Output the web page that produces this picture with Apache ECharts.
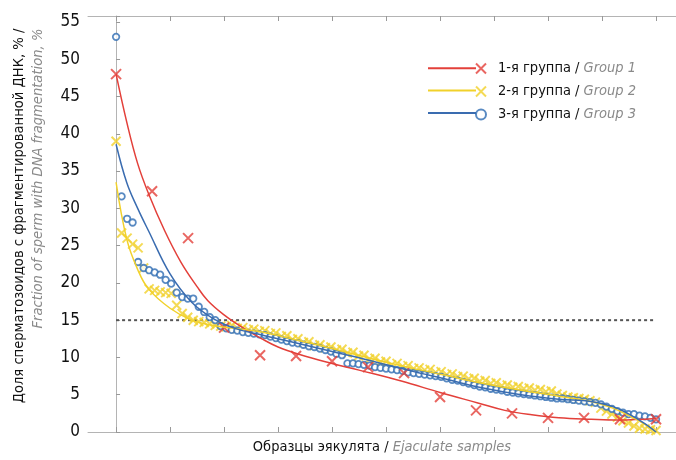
<!DOCTYPE html>
<html>
<head>
<meta charset="utf-8">
<script src="https://cdn.jsdelivr.net/npm/echarts@6/dist/echarts.min.js"></script>
<style>
  html, body { margin: 0; padding: 0; background: #fff; }
  #chart { width: 676px; height: 460px; }
</style>
</head>
<body>
<div id="chart"></div>
<script>
// x is the position of a sample along the ranked list, 0..100
const xTicks = [0, 10, 20, 30, 40, 50, 60, 70, 80, 90, 100];
const yTicks = [0, 5, 10, 15, 20, 25, 30, 35, 40, 45, 50, 55];
const threshold = 15;

const namesRu = ["1-я группа", "2-я группа", "3-я группа"];
const namesEn = ["Group 1", "Group 2", "Group 3"];

const group1 = [48.0, 32.3, 26.0, 14.0, 10.3, 10.2, 9.5, 8.7, 7.9, 4.7, 2.9, 2.5, 1.9, 1.9, 1.7, 1.7];

const group2 = [
    39.0, 26.7, 26.0, 25.2, 24.7, 22.0, 19.2, 19.0, 18.8, 18.7,
    18.6, 17.0, 15.9, 15.4, 15.0, 14.8, 14.7, 14.5, 14.3, 14.2,
    14.1, 14.3, 13.9, 14.0, 13.7, 13.8, 13.5, 13.6, 13.2, 13.3,
    12.8, 12.9, 12.4, 12.5, 12.0, 12.1, 11.6, 11.7, 11.3, 11.4,
    11.0, 11.1, 10.6, 10.7, 10.2, 10.3, 9.8, 9.9, 9.4, 9.5,
    9.0, 9.2, 8.8, 8.9, 8.5, 8.6, 8.3, 8.4, 8.0, 8.1,
    7.7, 7.8, 7.4, 7.5, 7.1, 7.2, 6.8, 6.9, 6.5, 6.6,
    6.2, 6.3, 6.0, 6.1, 5.8, 5.9, 5.6, 5.7, 5.4, 5.5,
    5.1, 4.9, 4.7, 4.6, 4.5, 4.4, 4.2, 4.0, 3.2, 2.8,
    2.4, 2.0, 1.5, 1.2, 0.8, 0.5, 0.4, 0.3, 0.2
];

const group3 = [
    53.0, 31.6, 28.6, 28.1, 22.8, 22.0, 21.7, 21.4, 21.1, 20.4,
    19.9, 18.7, 18.1, 17.9, 17.9, 16.8, 16.1, 15.4, 15.0, 14.2,
    13.9, 13.7, 13.6, 13.4, 13.3, 13.2, 13.1, 13.0, 12.8, 12.6,
    12.4, 12.2, 12.0, 11.9, 11.7, 11.5, 11.4, 11.2, 11.0, 10.8,
    10.5, 10.3, 9.2, 9.2, 9.1, 9.0, 8.9, 8.7, 8.6, 8.5,
    8.4, 8.3, 8.2, 8.0, 7.9, 7.8, 7.7, 7.6, 7.5, 7.4,
    7.2, 7.0, 6.9, 6.7, 6.5, 6.3, 6.1, 6.0, 5.8, 5.7,
    5.6, 5.4, 5.3, 5.2, 5.1, 5.0, 4.9, 4.8, 4.7, 4.6,
    4.5, 4.5, 4.4, 4.3, 4.2, 4.1, 4.0, 3.9, 3.7, 3.4,
    3.1, 2.8, 2.6, 2.4, 2.4, 2.2, 2.1, 1.9, 1.7
];

// fitted trend curves as [x, y]
const fit1 = [[0, 48], [2, 41.5], [4, 36], [6, 32], [9, 27], [12, 22.8], [15, 19.5], [17, 17.6], [20, 15.7],
    [23, 14.2], [27, 12.5], [30, 11.4], [34, 10.4], [40, 9.2], [45, 8.3], [53, 6.8], [60, 5.3],
    [67, 3.9], [72, 2.9], [77, 2.3], [82, 1.9], [88, 1.7], [93, 1.6], [100, 1.8]];
const fit2 = [[0, 33.5], [2, 25.8], [4, 21.8], [6, 19.2], [10, 16.6], [14, 15.0], [18, 14.3], [22, 13.9],
    [27, 13.4], [33, 12.4], [40, 11.2], [47, 9.9], [54, 8.7], [61, 7.6], [68, 6.5], [75, 5.6],
    [82, 4.8], [88, 4.1], [92, 3.2], [95, 2.2], [98, 1.0], [100, 0]];
const fit3 = [[0, 38.6], [2, 33.4], [4, 30.0], [6, 27.0], [10, 21.2], [14, 17.4], [18, 15.2], [22, 13.9],
    [27, 13.0], [33, 12.0], [40, 10.8], [47, 9.6], [54, 8.3], [61, 7.1], [68, 5.9], [75, 5.0],
    [82, 4.4], [88, 4.1], [92, 3.4], [95, 2.4], [98, 1.1], [100, 0]];

const colors = {
    red: "#e3403a",
    yellow: "#f1d12b",
    blue: "#2f6db3",
    frame: "#b4b4b4"
};

const FONT = "'Liberation Sans Narrow', 'DejaVu Sans Condensed', 'Noto Sans', sans-serif";
const CROSS = "path://M0,0L10,10M10,0L0,10";

function spread(values) {
    const n = values.length;
    return values.map((v, i) => [i * 100 / (n - 1), v]);
}

function axisX(position) {
    return {
        type: "value",
        position: position,
        min: -5.2,
        max: 103.7,
        axisLine: { show: true, onZero: false, lineStyle: { color: colors.frame, width: 1 } },
        axisTick: { show: true, inside: true, length: 5, customValues: xTicks, lineStyle: { color: "#999" } },
        axisLabel: { show: false },
        splitLine: { show: false }
    };
}

const chart = echarts.init(document.getElementById("chart"), null, { renderer: "canvas" });

const bottomAxis = axisX("bottom");
bottomAxis.name = "{a|Образцы эякулята / }{b|Ejaculate samples}";
bottomAxis.nameLocation = "middle";
bottomAxis.nameGap = 8;
bottomAxis.nameTextStyle = {
    rich: {
        a: { fontFamily: FONT, fontSize: 14.5, color: "#111" },
        b: { fontFamily: FONT, fontSize: 14.5, color: "#8a8a8a", fontStyle: "italic" }
    }
};

const option = {
    animation: false,
    textStyle: { fontFamily: FONT },
    grid: { left: 88, right: 0, top: 16, bottom: 27 },
    legend: [
        {
            data: ["fit1", "fit2", "fit3"],
            orient: "vertical",
            left: 422,
            top: 56,
            itemWidth: 48,
            itemHeight: 18,
            itemGap: 8,
            selectedMode: false,
            itemStyle: { opacity: 0 },
            formatter: () => "",
            textStyle: { fontSize: 14, lineHeight: 18 }
        },
        {
            data: ["g1", "g2", "g3"],
            orient: "vertical",
            left: 470,
            top: 56,
            itemWidth: 10,
            itemHeight: 10,
            itemGap: 8,
            selectedMode: false,
            formatter: function (name) {
                const i = ["g1", "g2", "g3"].indexOf(name);
                return `{a|${namesRu[i]} / }{b|${namesEn[i]}}`;
            },
            textStyle: {
                rich: {
                    a: { fontFamily: FONT, fontSize: 14.5, lineHeight: 18, color: "#111", padding: [0, 0, 0, 7] },
                    b: { fontFamily: FONT, fontSize: 14.5, lineHeight: 18, color: "#8a8a8a", fontStyle: "italic" }
                }
            }
        }
    ],
    xAxis: [bottomAxis, axisX("top")],
    yAxis: {
        type: "value",
        min: 0,
        max: 55.8,
        interval: 5,
        name: "{a|Доля сперматозоидов с фрагментированной ДНК, % /}\n{b|Fraction of sperm with DNA fragmentation, %}",
        nameLocation: "middle",
        nameRotate: 90,
        nameGap: 40,
        nameTextStyle: {
            padding: [0, 0, 0, 16],
            rich: {
                a: { fontFamily: FONT, fontSize: 14.6, lineHeight: 19, color: "#111", align: "right" },
                b: { fontFamily: FONT, fontSize: 14.6, lineHeight: 19, color: "#8a8a8a", fontStyle: "italic", align: "right" }
            }
        },
        axisLine: { show: true, lineStyle: { color: colors.frame, width: 1 } },
        axisTick: { show: true, inside: true, length: 4, lineStyle: { color: "#999" } },
        axisLabel: {
            color: "#111",
            fontSize: 17,
            margin: 8,
            customValues: yTicks
        },
        splitLine: { show: false }
    },
    series: [
        {
            name: "g1",
            type: "scatter",
            data: spread(group1),
            symbol: CROSS,
            symbolSize: 10,
            itemStyle: { color: "transparent", borderColor: colors.red, borderWidth: 2 },
            z: 3
        },
        {
            name: "g2",
            type: "scatter",
            data: spread(group2),
            symbol: CROSS,
            symbolSize: 9,
            itemStyle: { color: "transparent", borderColor: colors.yellow, borderWidth: 2 },
            z: 2
        },
        {
            name: "g3",
            type: "scatter",
            data: spread(group3),
            symbol: "circle",
            symbolSize: 6.5,
            itemStyle: { color: "#fff", borderColor: colors.blue, borderWidth: 1.8 },
            z: 2
        },
        {
            name: "fit1",
            type: "line",
            data: fit1,
            smooth: 0.4,
            symbol: "none",
            lineStyle: { color: colors.red, width: 1.5 },
            z: 4
        },
        {
            name: "fit2",
            type: "line",
            data: fit2,
            smooth: 0.4,
            symbol: "none",
            lineStyle: { color: colors.yellow, width: 1.5 },
            z: 4
        },
        {
            name: "fit3",
            type: "line",
            data: fit3,
            smooth: 0.4,
            symbol: "none",
            lineStyle: { color: "#3a6cb0", width: 1.5 },
            z: 4
        },
        {
            name: "threshold",
            type: "line",
            data: [[0, threshold], [100, threshold]],
            symbol: "none",
            silent: true,
            lineStyle: { color: "#555", width: 2, type: [3, 3] },
            z: 1
        }
    ]
};

chart.setOption(option);
</script>
</body>
</html>
